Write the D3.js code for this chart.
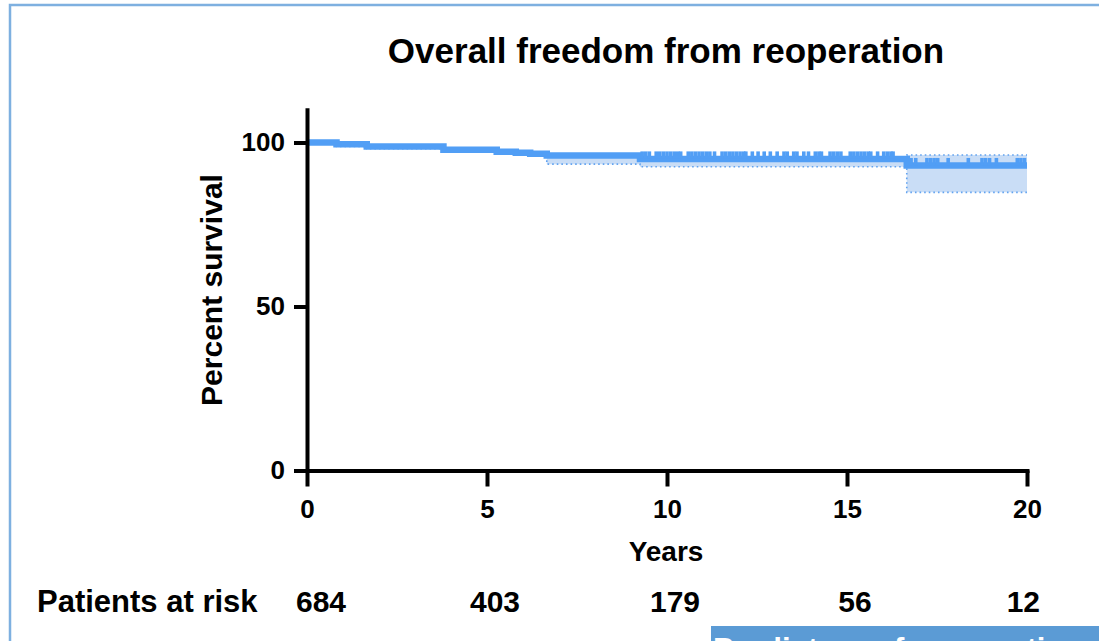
<!DOCTYPE html>
<html>
<head>
<meta charset="utf-8">
<script src="https://cdn.jsdelivr.net/npm/d3@7"></script>
<style>
  body { margin: 0; background: #fff; }
  text { font-family: "Liberation Sans", Arial, sans-serif; font-weight: bold; fill: #000; }
</style>
</head>
<body>
<div id="chart"></div>
<script>
// Kaplan-Meier steps (years, percent)
const times    = [0, 0.82, 1.66, 3.79, 5.27, 5.8, 6.2, 6.66, 9.25, 16.66, 20];
const survival = [100, 99.5, 98.8, 97.8, 97.2, 96.9, 96.6, 96.0, 95.0, 93.0, 93.0];
const ciLower  = [100, 98.8, 98.1, 97.1, 96.5, 96.2, 95.9, 93.4, 92.6, 84.8, 84.8];
const ciUpper  = [100, 99.9, 99.3, 98.4, 97.8, 97.5, 97.2, 96.5, 95.5, 96.2, 96.2];

// censored observations (years)
const censored = [
    9.31, 9.41, 9.51,
    9.70, 9.80, 9.90, 10.00, 10.10, 10.20, 10.30, 10.38,
    10.59, 10.69, 10.79, 10.89, 10.99, 11.09, 11.19, 11.32,
    11.53, 11.63, 11.73, 11.83, 11.93, 12.03, 12.13, 12.19,
    12.37, 12.53, 12.70, 12.87, 13.06, 13.25, 13.34, 13.52, 13.61, 13.80, 13.93,
    14.12, 14.22, 14.29, 14.53, 14.63, 14.73, 14.83,
    15.09, 15.19, 15.29, 15.39, 15.49, 15.59, 15.66, 15.85,
    16.02, 16.12, 16.22, 16.28,
    16.78, 16.91, 17.22, 17.32, 17.42, 17.52, 17.81, 18.37,
    18.75, 18.85, 18.96, 19.15, 19.73, 19.83, 19.93
];

const xTicks = [0, 5, 10, 15, 20];
const yTicks = [0, 50, 100];
const riskTimes = [0, 5, 10, 15, 20];
const atRisk = [684, 403, 179, 56, 12];

const width = 1099, height = 641;
const lineColor = "#519ef5";

const svg = d3.select("#chart").append("svg")
    .attr("width", width)
    .attr("height", height);

// slide frame
svg.append("rect")
    .attr("x", 10).attr("y", 5)
    .attr("width", width + 20).attr("height", height + 20)
    .attr("fill", "none")
    .attr("stroke", "#7eb0e0")
    .attr("stroke-width", 2.5);

const x = d3.scaleLinear().domain([0, 20]).range([307, 1027]);
const y = d3.scaleLinear().domain([0, 110]).range([470.5, 109.7]);

const steps = times.map((t, i) => ({t, s: survival[i], lo: ciLower[i], hi: ciUpper[i]}));

// confidence band
svg.append("path")
    .datum(steps)
    .attr("fill", "#c9ddf6")
    .attr("d", d3.area().curve(d3.curveStepAfter)
        .x(d => x(d.t)).y0(d => y(d.lo)).y1(d => y(d.hi)));

[d => d.lo, d => d.hi].forEach(acc => {
    svg.append("path")
        .datum(steps)
        .attr("fill", "none")
        .attr("stroke", "#62a3f0")
        .attr("stroke-width", 1.6)
        .attr("stroke-dasharray", "1.6,3")
        .attr("d", d3.line().curve(d3.curveStepAfter).x(d => x(d.t)).y(d => y(acc(d))));
});

// survival curve
svg.append("path")
    .datum(steps)
    .attr("fill", "none")
    .attr("stroke", lineColor)
    .attr("stroke-width", 6.5)
    .attr("d", d3.line().curve(d3.curveStepAfter).x(d => x(d.t)).y(d => y(d.s)));

// censor ticks
function survAt(t) {
    return survival[d3.bisectRight(times, t) - 1];
}
svg.append("g")
    .selectAll("line")
    .data(censored)
    .join("line")
    .attr("x1", d => x(d)).attr("x2", d => x(d))
    .attr("y1", d => y(survAt(d)))
    .attr("y2", d => y(survAt(d)) - 7.5)
    .attr("stroke", lineColor)
    .attr("stroke-width", 3.6);

// axes
const yAxis = svg.append("g")
    .attr("transform", `translate(${x(0)},0)`)
    .call(d3.axisLeft(y).tickValues(yTicks).tickSize(13).tickSizeOuter(0).tickPadding(9));

const xAxis = svg.append("g")
    .attr("transform", `translate(0,${y(0)})`)
    .call(d3.axisBottom(x).tickValues(xTicks).tickSize(16).tickSizeOuter(0).tickPadding(13));

[yAxis, xAxis].forEach(g => {
    g.select(".domain").attr("stroke", "#000").attr("stroke-width", 4).attr("stroke-linecap", "square");
    g.selectAll(".tick line").attr("stroke", "#000").attr("stroke-width", 4);
    g.selectAll(".tick text")
        .attr("fill", "#000")
        .style("font-size", "26px")
        .style("font-family", "'Liberation Sans', Arial, sans-serif")
        .style("font-weight", "bold");
});

// titles
svg.append("text")
    .attr("x", 666).attr("y", 63)
    .attr("text-anchor", "middle")
    .style("font-size", "35px")
    .text("Overall freedom from reoperation");

svg.append("text")
    .attr("transform", "translate(222,290) rotate(-90)")
    .attr("text-anchor", "middle")
    .style("font-size", "30px")
    .text("Percent survival");

svg.append("text")
    .attr("x", 666).attr("y", 561)
    .attr("text-anchor", "middle")
    .style("font-size", "28px")
    .text("Years");

// patients at risk row
svg.append("text")
    .attr("x", 37).attr("y", 612)
    .style("font-size", "31px")
    .text("Patients at risk");

svg.append("g")
    .selectAll("text")
    .data(riskTimes)
    .join("text")
    .attr("x", (d, i) => i === 0 ? x(d) - 11 : i === riskTimes.length - 1 ? x(d) + 13 : x(d) + 8)
    .attr("y", 612)
    .attr("text-anchor", (d, i) => i === 0 ? "start" : i === riskTimes.length - 1 ? "end" : "middle")
    .style("font-size", "30px")
    .text((d, i) => atRisk[i]);

// next slide's header peeking in at the bottom
svg.append("rect")
    .attr("x", 711).attr("y", 626)
    .attr("width", 400).attr("height", 40)
    .attr("fill", "#5b9bd5");

svg.append("text")
    .attr("x", 713).attr("y", 660)
    .style("font-size", "31px")
    .style("fill", "#fff")
    .text("Predictors of reoperation");
</script>
</body>
</html>
